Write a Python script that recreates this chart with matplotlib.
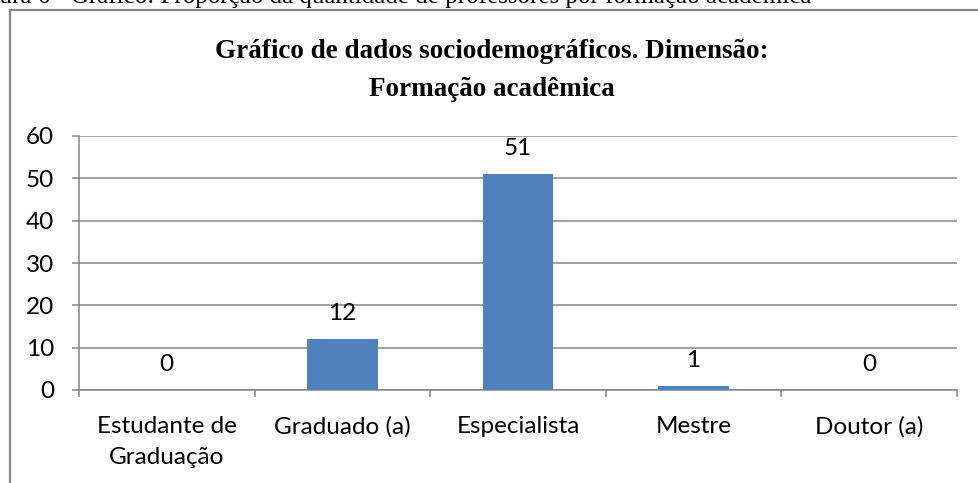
import matplotlib
matplotlib.use("Agg")
import matplotlib.pyplot as plt
from matplotlib.lines import Line2D
import numpy as np

categories = ["Estudante de\nGraduação", "Graduado (a)", "Especialista", "Mestre", "Doutor (a)"]
values = [0, 12, 51, 1, 0]
y_ticks = [0, 10, 20, 30, 40, 50, 60]
title_lines = ["Gráfico de dados sociodemográficos. Dimensão:", "Formação acadêmica"]
caption = "Figura 6 - Gráfico: Proporção da quantidade de professores por formação acadêmica"

W, H = 979, 483
fig = plt.figure(figsize=(W / 100, H / 100), dpi=100)
fig.patch.set_facecolor("white")

gray = "#868686"
bar_color = "#4F81BD"
tick_font = "Lato"
fs = 17.5

ax = fig.add_axes([79 / W, 1 - 390 / H, (957 - 79) / W, (390 - 136) / H])
x = np.arange(len(categories))
ax.bar(x, values, width=0.4, color=bar_color, zorder=3)
ax.set_xlim(-0.5, len(categories) - 0.5)
ax.set_ylim(0, 60)
ax.set_yticks(y_ticks)
ax.set_yticklabels([str(v) for v in y_ticks], fontfamily=tick_font, fontsize=fs)
ax.yaxis.grid(True, color=gray, linewidth=1.1, zorder=0)
ax.set_axisbelow(True)
ax.tick_params(axis="y", length=5, width=1.1, color=gray, pad=13)
ax.set_xticks(x)
ax.set_xticklabels(categories, fontfamily=tick_font, fontsize=fs, linespacing=1.55)
ax.set_xticks(np.arange(len(categories) + 1) - 0.5, minor=True)
ax.tick_params(axis="x", which="major", length=0, pad=19)
ax.tick_params(axis="x", which="minor", length=5, width=1.1, color=gray)
for s in ["top", "right"]:
    ax.spines[s].set_visible(False)
for s in ["left", "bottom"]:
    ax.spines[s].set_color(gray)
    ax.spines[s].set_linewidth(1.1)

for xi, v in zip(x, values):
    ax.annotate(str(v), (xi, v), xytext=(0, 13.5), textcoords="offset points",
                ha="center", va="baseline", fontfamily=tick_font, fontsize=fs)

for line, yb in zip(title_lines, [58, 96]):
    fig.text(492 / W, 1 - yb / H, line, ha="center", va="baseline",
             fontfamily="Liberation Serif", fontweight="bold", fontsize=19.5)

# caption cut off at top of image
fig.canvas.draw()
r = fig.canvas.get_renderer()
t_tmp = fig.text(0, 0, "Fig", fontfamily="Liberation Serif", fontsize=18)
wfig = t_tmp.get_window_extent(r).width
t_tmp.remove()
fig.text(-wfig / W, 1 - 2.5 / H, caption, ha="left", va="baseline",
         fontfamily="Liberation Serif", fontsize=18)

# frame
fig.add_artist(Line2D([10 / W, 10 / W], [0, 1 - 10 / H], transform=fig.transFigure,
                      color=gray, linewidth=1.6))
fig.add_artist(Line2D([10 / W, 1], [1 - 10 / H, 1 - 10 / H], transform=fig.transFigure,
                      color=gray, linewidth=1.6))

fig.savefig("out.png", dpi=100, facecolor="white")
